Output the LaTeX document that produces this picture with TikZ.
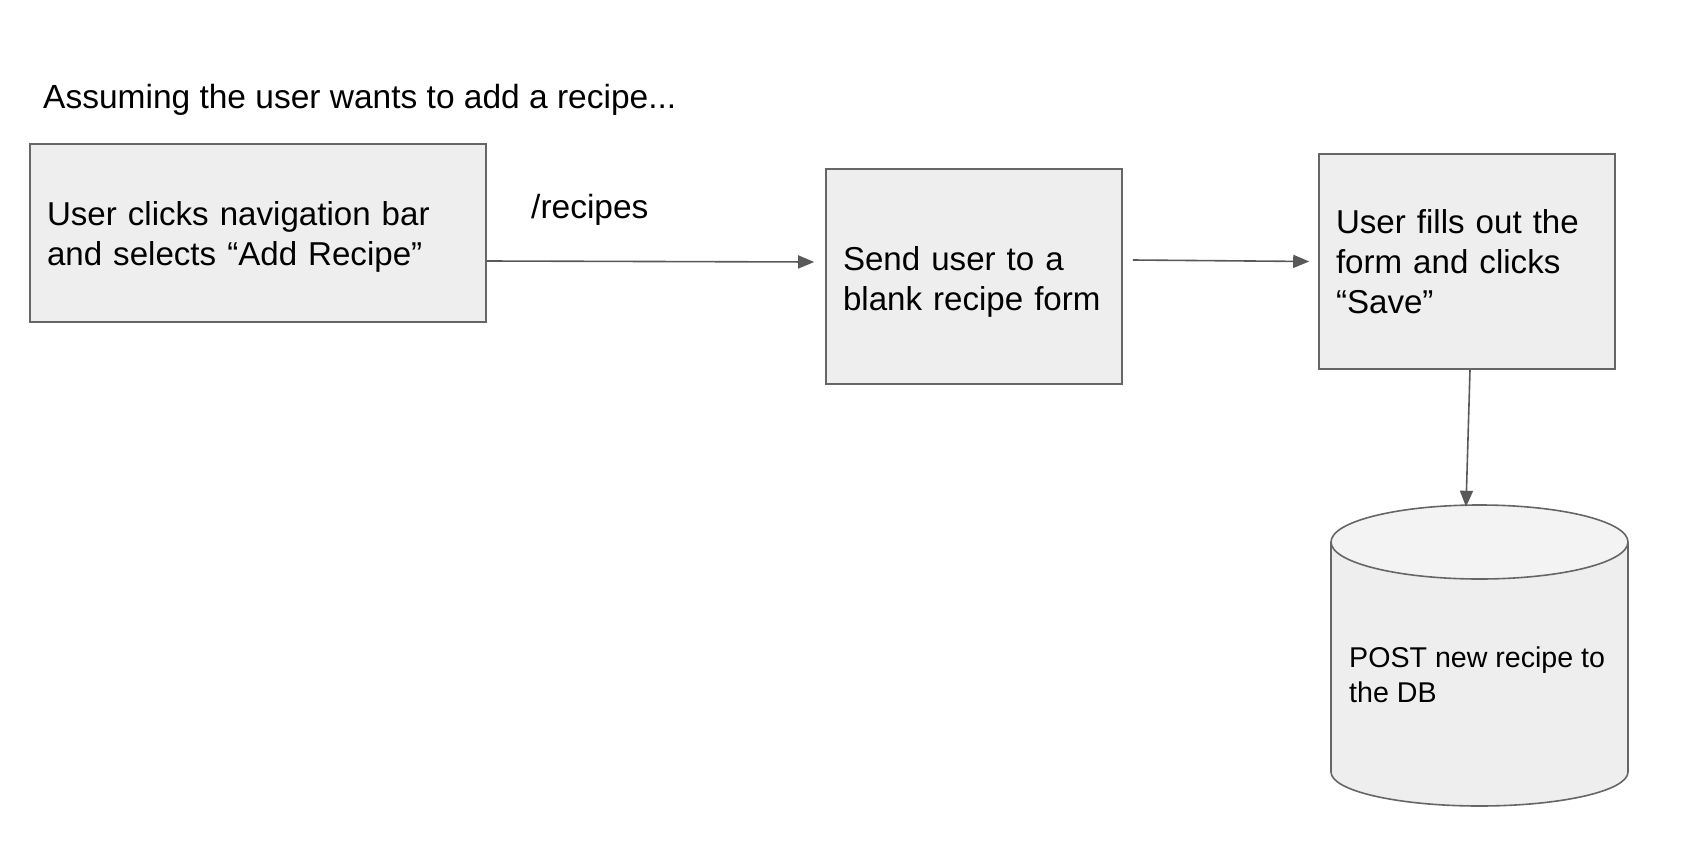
\documentclass[tikz,border=0pt]{standalone}
\usepackage{fontspec}
\setmainfont{Liberation Sans}
\usetikzlibrary{arrows.meta}
\definecolor{bfill}{HTML}{EEEEEE}
\definecolor{bdraw}{HTML}{666666}
\definecolor{topfill}{HTML}{F3F3F3}
\definecolor{arrcol}{HTML}{595959}
\begin{document}
\begin{tikzpicture}[x=1pt,y=-1pt,
  procbox/.style={draw=bdraw, fill=bfill, line width=1.6pt, rectangle, inner xsep=17pt, inner ysep=0pt,
    align=left, font=\fontsize{33.1}{40}\selectfont},
  plain/.style={inner sep=0pt, font=\fontsize{33.5}{41}\selectfont},
  arr/.style={draw=arrcol, line width=1.6pt, -{Triangle[length=16pt,width=13pt]}}]
\useasboundingbox (0,0) rectangle (1682,862);
\node[plain, anchor=base west] (title) at (43,108) {Assuming the user wants to add a recipe...};
\node[procbox, text width=422pt, minimum height=178pt] (b1) at (258,233)
  {\rule{0pt}{31pt}User clicks navigation bar\\and selects “Add Recipe”};
\node[procbox, text width=262pt, minimum height=215pt] (b2) at (974,276.5)
  {\rule{0pt}{34pt}Send user to a\\blank recipe form};
\node[procbox, text width=262pt, minimum height=215pt] (b3) at (1467,261.5)
  {User fills out the\\form and clicks\\“Save”};
\node[plain, anchor=base west] (lbl) at (531,218) {/recipes};
% cylinder
\fill[bfill] (1331,542) -- (1331,772) arc[start angle=180, end angle=0, x radius=148.5, y radius=34] -- (1628,542) -- cycle;
\draw[bdraw, line width=1.6pt] (1331,542) -- (1331,772) arc[start angle=180, end angle=0, x radius=148.5, y radius=34] -- (1628,542);
\draw[bdraw, line width=1.6pt, fill=topfill] (1479.5,542) ellipse [x radius=148.5, y radius=37];
\node[inner sep=0pt, minimum width=297pt, minimum height=302pt] (db) at (1479.5,656) {};
\node[inner sep=0pt, anchor=west, align=left, font=\fontsize{28.6}{35.5}\selectfont] (dbtext) at (1349,675)
  {POST new recipe to\\the DB};
% arrows
\draw[arr] ([yshift=-28pt]b1.east) -- ([xshift=-11pt,yshift=14.5pt]b2.west);
\draw[arr] ([xshift=10pt,yshift=16.5pt]b2.east) -- ([xshift=-9pt]b3.west);
\draw[arr] ([xshift=3pt]b3.south) -- ([xshift=-13.5pt,yshift=-2pt]db.north);
\end{tikzpicture}
\end{document}
